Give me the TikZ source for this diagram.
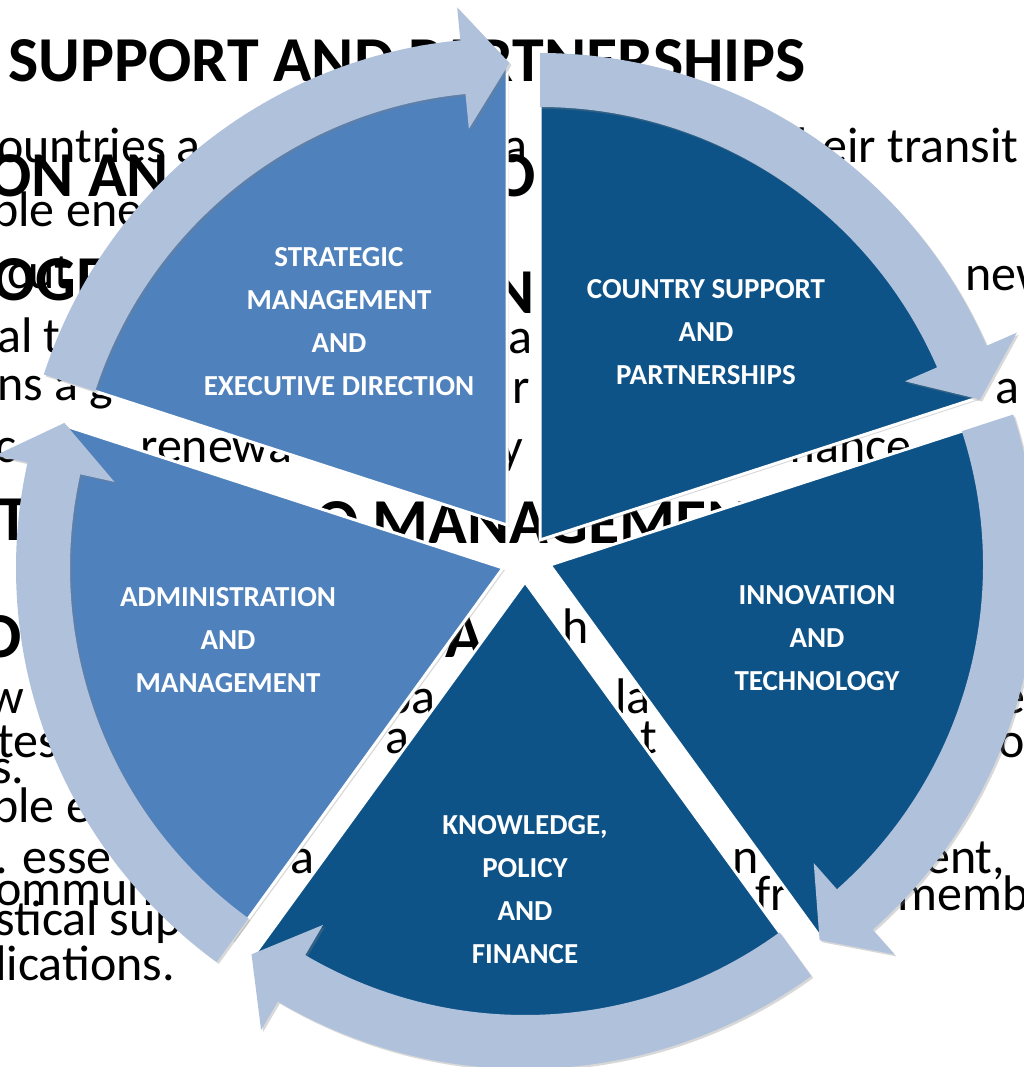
\documentclass[tikz,border=0pt]{standalone}
\usepackage{fontspec}
\setmainfont{Carlito}
\usetikzlibrary{shadows,calc}
\definecolor{midblue}{RGB}{79,129,189}
\definecolor{darkblue}{RGB}{14,83,136}
\definecolor{arrowblue}{RGB}{176,193,220}
\begin{document}
\begin{tikzpicture}[x=1pt,y=1pt,
  bgreg/.style={anchor=base west, inner sep=0pt, font=\fontsize{50}{60}\selectfont, text=black},
  bgbold/.style={anchor=base west, inner sep=0pt, font=\fontsize{64}{70}\selectfont\bfseries, text=black},
  slice/.style={draw=white, line width=3pt, line join=miter, drop shadow={opacity=0.3,shadow xshift=2pt,shadow yshift=-2pt}},
  cyclearrow/.style={fill=arrowblue, drop shadow={opacity=0.3,shadow xshift=2pt,shadow yshift=-2pt}},
  lbl/.style={text=white, align=center, font=\fontsize{29}{43}\selectfont\bfseries, inner sep=0pt}
]
\useasboundingbox (0,0) rectangle (1024,-1067);
\clip (0,0) rectangle (1024,-1067);
\fill[white] (0,0) rectangle (1024,-1067);
% background document text
\node[bgbold] (b1) at (8,-82) {SUPPORT AND PARTNERSHIPS};
\node[bgreg] (r1) at (-3,-163) {ountries a};
\node[bgreg] (r1g) at (503,-163) {a};
\node[bgreg] (r1r) at (796,-163) {heir transit};
\node[bgbold] (b2) at (-12,-197) {ON AN};
\node[bgbold] (b2g) at (492,-197) {O};
\node[bgreg] (r2) at (-8,-226) {ble ene};
\node[bgreg] (r3) at (7,-288) {cut};
\node[bgbold] (b3) at (-8,-300) {OGE};
\node[bgbold] (b3g) at (492,-313) {N};
\node[bgreg] (r3r) at (965,-290) {new};
\node[bgreg] (r4) at (-3,-352) {al t};
\node[bgreg] (r4g) at (508,-353) {a};
\node[bgreg] (r5) at (-3,-400) {ns a g};
\node[bgreg] (r5g) at (512,-403) {r};
\node[bgreg] (r5r) at (995,-403) {a};
\node[bgreg] (r6) at (-5,-462) {c};
\node[bgreg] (r6b) at (140,-462) {renewa};
\node[bgreg] (r6g) at (500,-463) {y};
\node[bgreg] (r6r) at (775,-462) {mance};
\node[bgbold] (b4) at (-3,-540) {TI};
\node[bgbold] (b4c) at (315,-543) {O MANAGEMEN};
\node[bgbold] (b5) at (-22,-657) {O};
\node[bgbold] (b5g) at (445,-657) {A};
\node[bgreg] (r7g) at (562,-643) {h};
\node[bgreg] (r8) at (-12,-713) {w};
\node[bgreg] (r8g) at (385,-713) {ba};
\node[bgreg] (r8h) at (615,-713) {la};
\node[bgreg] (r8r) at (1000,-713) {e};
\node[bgreg] (r9) at (-3,-757) {tes};
\node[bgreg] (r9g) at (385,-753) {a};
\node[bgreg] (r9h) at (640,-753) {t};
\node[bgreg] (r9r) at (998,-757) {o};
\node[bgreg] (r10) at (-8,-783) {s.};
\node[bgreg] (r11) at (-8,-822) {ble e};
\node[bgreg] (r12) at (-5,-873) {. esse};
\node[bgreg] (r12g) at (290,-873) {a};
\node[bgreg] (r12h) at (732,-873) {n};
\node[bgreg] (r12r) at (885,-873) {ment,};
\node[bgreg] (r13) at (-5,-905) {ommun};
\node[bgreg] (r13h) at (755,-910) {fr};
\node[bgreg] (r13r) at (897,-910) {memb};
\node[bgreg] (r14) at (-5,-935) {stical sup};
\node[bgreg] (r15) at (-5,-980) {lications.};
% slice apexes
\coordinate (P1) at (507,-525);
\coordinate (P2) at (540,-540);
\coordinate (P3) at (550,-565);
\coordinate (P4) at (525,-582);
\coordinate (P5) at (503,-568);
% slices
\path[slice, fill=midblue] (P1) -- ++(162:460) arc[start angle=162, end angle=90, radius=460] -- cycle;
\path[slice, fill=darkblue] (P2) -- ++(90:460) arc[start angle=90, end angle=18, radius=460] -- cycle;
\path[slice, fill=darkblue] (P3) -- ++(18:460) arc[start angle=18, end angle=-54, radius=460] -- cycle;
\path[slice, fill=darkblue] (P4) -- ++(-54:460) arc[start angle=-54, end angle=-126, radius=460] -- cycle;
\path[slice, fill=midblue] (P5) -- ++(-126:460) arc[start angle=-126, end angle=-198, radius=460] -- cycle;
% cycle arrows
\foreach \p/\a in {P1/162, P2/90, P3/18, P4/-54, P5/-126}{
  \path[cyclearrow] ($(\p)+(\a:487)$) arc[start angle=\a, end angle=\a-66.5, radius=487]
    -- ($(\p)+({\a-66.5}:520)$) -- ($(\p)+({\a-72.3}:462)$) -- ($(\p)+({\a-66.5}:398)$)
    -- ($(\p)+({\a-66.5}:433)$) arc[start angle=\a-66.5, end angle=\a, radius=433] -- cycle;
}
% labels
\node[lbl] (l1) at (339,-322) {STRATEGIC\\MANAGEMENT\\AND\\EXECUTIVE DIRECTION};
\node[lbl] (l2) at (706,-332) {COUNTRY SUPPORT\\AND\\PARTNERSHIPS};
\node[lbl] (l3) at (817,-638) {INNOVATION\\AND\\TECHNOLOGY};
\node[lbl] (l4) at (525,-890) {KNOWLEDGE,\\POLICY\\AND\\FINANCE};
\node[lbl] (l5) at (228,-640) {ADMINISTRATION\\AND\\MANAGEMENT};
\end{tikzpicture}
\end{document}
